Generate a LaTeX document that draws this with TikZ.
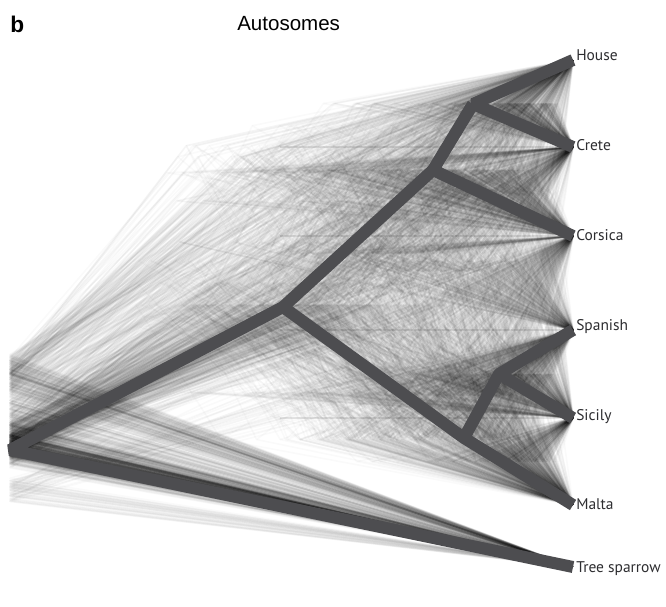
\documentclass[tikz,border=0pt]{standalone}
\usepackage{fontspec}
\setmainfont{PT Sans}
\newfontfamily\arialf{Liberation Sans}
\definecolor{treecol}{RGB}{77,77,80}
\definecolor{labcol}{RGB}{45,45,48}
\newcommand\gtBal[6]{%
 \pgfmathsetmacro\yC{(#1+#2)/2}%
 \pgfmathsetmacro\yB{(\yC+#3)/2}%
 \pgfmathsetmacro\yE{(#4+#5)/2}%
 \pgfmathsetmacro\yD{(\yE+#6)/2}%
 \pgfmathsetmacro\yA{(\yB+\yD)/2}%
 \pgfmathsetmacro\yR{(\yA+567)/2+10+12*rand}%
 \pgfmathsetmacro\xA{130+330*(rnd+rnd)/2}%
 \pgfmathsetmacro\xB{\xA+(560-\xA)*(0.15+0.7*rnd)}%
 \pgfmathsetmacro\xC{\xB+(566-\xB)*(0.15+0.7*rnd)}%
 \pgfmathsetmacro\xD{\xA+(560-\xA)*(0.15+0.7*rnd)}%
 \pgfmathsetmacro\xE{\xD+(566-\xD)*(0.15+0.7*rnd)}%
 \draw[cloud] (573,567) -- (10,\yR) -- (\xA,\yA) -- (\xB,\yB) -- (\xC,\yC) -- (573,#1);
 \draw[cloud] (\xC,\yC) -- (573,#2);
 \draw[cloud] (\xB,\yB) -- (573,#3);
 \draw[cloud] (\xA,\yA) -- (\xD,\yD) -- (\xE,\yE) -- (573,#4);
 \draw[cloud] (\xE,\yE) -- (573,#5);
 \draw[cloud] (\xD,\yD) -- (573,#6);
}
\newcommand\gtCat[6]{%
 \pgfmathsetmacro\yE{(#5+#6)/2}%
 \pgfmathsetmacro\yD{(#4+\yE)/2}%
 \pgfmathsetmacro\yC{(#3+\yD)/2}%
 \pgfmathsetmacro\yB{(#2+\yC)/2}%
 \pgfmathsetmacro\yA{(#1+\yB)/2}%
 \pgfmathsetmacro\yR{(\yA+567)/2+10+12*rand}%
 \pgfmathsetmacro\xA{160+300*(rnd+rnd)/2}%
 \pgfmathsetmacro\xB{\xA+(560-\xA)*(0.1+0.4*rnd)}%
 \pgfmathsetmacro\xC{\xB+(562-\xB)*(0.1+0.4*rnd)}%
 \pgfmathsetmacro\xD{\xC+(564-\xC)*(0.1+0.5*rnd)}%
 \pgfmathsetmacro\xE{\xD+(566-\xD)*(0.1+0.6*rnd)}%
 \draw[cloud] (573,567) -- (10,\yR) -- (\xA,\yA) -- (\xB,\yB) -- (\xC,\yC) -- (\xD,\yD) -- (\xE,\yE) -- (573,#6);
 \draw[cloud] (\xA,\yA) -- (573,#1);
 \draw[cloud] (\xB,\yB) -- (573,#2);
 \draw[cloud] (\xC,\yC) -- (573,#3);
 \draw[cloud] (\xD,\yD) -- (573,#4);
 \draw[cloud] (\xE,\yE) -- (573,#5);
}
\begin{document}
\begin{tikzpicture}[x=0.75pt,y=-0.75pt,
  cloud/.style={draw=black,line width=1.2pt,opacity=0.018,line join=round},
  constree/.style={draw=treecol,line width=9pt,line cap=butt,line join=bevel},
  taxon/.style={anchor=base west,text=labcol,font=\fontsize{11.6pt}{13pt}\selectfont,inner sep=0pt}]
\useasboundingbox (0,0) rectangle (666,606);
% gene tree cloud
\pgfmathsetseed{4711}
\foreach \i in {1,...,1100}{
  \pgfmathrandominteger{\k}{0}{19}
  \ifcase\k\relax
    \gtBal{60}{147}{236}{330}{418}{505}\or
    \gtBal{60}{147}{236}{330}{418}{505}\or
    \gtBal{60}{147}{236}{330}{418}{505}\or
    \gtBal{60}{147}{236}{330}{418}{505}\or
    \gtBal{60}{147}{236}{330}{418}{505}\or
    \gtBal{60}{147}{236}{330}{418}{505}\or
    \gtBal{60}{147}{236}{330}{418}{505}\or
    \gtBal{60}{147}{418}{236}{330}{505}\or
    \gtBal{147}{236}{60}{418}{505}{330}\or
    \gtBal{60}{147}{236}{418}{505}{330}\or
    \gtBal{60}{147}{330}{236}{418}{505}\or
    \gtBal{147}{236}{330}{60}{418}{505}\or
    \gtBal{236}{330}{60}{147}{418}{505}\or
    \gtBal{60}{330}{147}{236}{505}{418}\or
    \gtCat{60}{147}{236}{330}{418}{505}\or
    \gtCat{60}{236}{147}{330}{505}{418}\or
    \gtCat{147}{60}{236}{505}{330}{418}\or
    \gtCat{418}{505}{330}{60}{147}{236}\or
    \gtCat{236}{60}{147}{330}{418}{505}\or
    \gtCat{330}{60}{147}{236}{505}{418}\fi
}
\foreach \yy in {147,236,330,418}{
  \draw[draw=black,line width=0.9pt,opacity=0.1] (280,\yy) -- (573,\yy);
}
% consensus tree
\coordinate (root) at (10,450);
\coordinate (A) at (283,307);
\coordinate (B) at (433,170);
\coordinate (C) at (473,104);
\coordinate (D) at (464,438);
\coordinate (E) at (499,374);
\coordinate (tH) at (573,60);
\coordinate (tCr) at (573,147);
\coordinate (tCo) at (573,236);
\coordinate (tSp) at (573,330);
\coordinate (tSi) at (573,418);
\coordinate (tMa) at (573,505);
\coordinate (tTS) at (573,567);
\draw[constree] (tH) -- (C) -- (tCr);
\draw[constree] (C) -- (B) -- (tCo);
\draw[constree] (B) -- (A) -- (root) -- (tTS);
\draw[constree] (A) -- (D) -- (tMa);
\draw[constree] (D) -- (E) -- (tSp);
\draw[constree] (E) -- (tSi);
% labels
\node[taxon] (lH) at (576,61) {House};
\node[taxon] (lCr) at (576,151) {Crete};
\node[taxon] (lCo) at (576,240) {Corsica};
\node[taxon] (lSp) at (576,330) {Spanish};
\node[taxon] (lSi) at (576,420) {Sicily};
\node[taxon] (lMa) at (576,509) {Malta};
\node[taxon] (lTS) at (576,572) {Tree sparrow};
\node[anchor=base west,inner sep=0pt,font=\arialf\fontsize{15.4pt}{18pt}\selectfont] (title) at (237,31) {Autosomes};
\node[anchor=base west,inner sep=0pt,font=\arialf\bfseries\fontsize{17pt}{20pt}\selectfont] (panel) at (10,33) {b};
\end{tikzpicture}
\end{document}
